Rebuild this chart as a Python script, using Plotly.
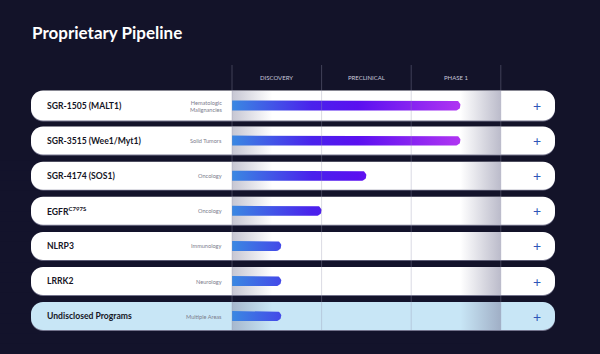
import math
import plotly.graph_objects as go

# ---- data ----
programs = ["SGR-1505 (MALT1)", "SGR-3515 (Wee1/Myt1)", "SGR-4174 (SOS1)",
            "EGFR<sup>C797S</sup>", "NLRP3", "LRRK2", "Undisclosed Programs"]
areas = ["Hematologic<br>Malignancies", "Solid Tumors", "Oncology", "Oncology",
         "Immunology", "Neurology", "Multiple Areas"]
progress = [2.55, 2.55, 1.5, 1.0, 0.55, 0.55, 0.55]   # stage units (0-1 Discovery, 1-2 Preclinical, 2-3 Phase 1)
stages = ["DISCOVERY", "PRECLINICAL", "PHASE 1"]
highlight = [False, False, False, False, False, False, True]

# ---- layout helpers (pixel -> axis units) ----
W, H = 600, 354
X0PX, XU = 232.0, 89.6      # stage 0 at px 232, one stage = 89.6 px
Y0PX, YU = 105.5, 35.1      # row 0 center, row spacing
def X(px): return (px - X0PX) / XU
def Y(py): return (py - Y0PX) / YU
DX, DY = 1 / XU, 1 / YU
K = 0.5523

def pill(x0, x1, yc, hh, r):
    rx, ry = r * DX, r * DY
    yt, yb = yc - hh, yc + hh
    p = [f"M{x0+rx},{yt}", f"L{x1-rx},{yt}",
         f"C{x1-rx+K*rx},{yt} {x1},{yt+ry-K*ry} {x1},{yt+ry}",
         f"L{x1},{yb-ry}",
         f"C{x1},{yb-ry+K*ry} {x1-rx+K*rx},{yb} {x1-rx},{yb}",
         f"L{x0+rx},{yb}",
         f"C{x0+rx-K*rx},{yb} {x0},{yb-ry+K*ry} {x0},{yb-ry}",
         f"L{x0},{yt+ry}",
         f"C{x0},{yt+ry-K*ry} {x0+rx-K*rx},{yt} {x0+rx},{yt}", "Z"]
    return " ".join(p)

fig = go.Figure()
shapes = []
annotations = []

# background glow (stacked translucent bands, below everything)
n = 20
for k in range(n):
    py0 = 150 + (H - 150) * k / n
    shapes.append(dict(type="rect", x0=X(0), x1=X(W * 0.8), y0=Y(py0), y1=Y(H),
                       fillcolor="rgba(50,40,95,0.022)", line=dict(width=0), layer="below"))

for i, name in enumerate(programs):
    hh = (15 if i == 0 else 14) * DY
    # shadow + pill
    shapes.append(dict(type="path", path=pill(X(31), X(555), i + 0.9 * DY, hh, 12),
                       fillcolor="rgba(140,140,165,0.8)", line=dict(width=0), layer="below"))
    shapes.append(dict(type="path", path=pill(X(31), X(555), i, hh, 12),
                       fillcolor="#c8e6f6" if highlight[i] else "#ffffff",
                       line=dict(width=0), layer="below"))
    # left shade
    fig.add_trace(go.Scatter(
        x=[0, 0.45, 0.45, 0, 0], y=[i - hh, i - hh, i + hh, i + hh, i - hh],
        mode="lines", line=dict(width=0), fill="toself",
        fillgradient=dict(type="horizontal", start=0, stop=0.45,
                          colorscale=[[0, "rgba(120,120,150,0.42)"], [1, "rgba(120,120,150,0)"]]),
        hoverinfo="skip", showlegend=False))
    # right shade
    fig.add_trace(go.Scatter(
        x=[2.55, 3.0, 3.0, 2.55, 2.55], y=[i - hh, i - hh, i + hh, i + hh, i - hh],
        mode="lines", line=dict(width=0), fill="toself",
        fillgradient=dict(type="horizontal", start=2.55, stop=3.0,
                          colorscale=[[0, "rgba(120,120,150,0)"], [1, "rgba(120,120,150,0.5)"]]),
        hoverinfo="skip", showlegend=False))

# progress bars
bh = 5 * DY
for i, v in enumerate(progress):
    rx = 5 * DX
    xs = [0, v - rx]
    ys = [i - bh, i - bh]
    for k in range(1, 20):
        a = -math.pi / 2 + math.pi * k / 20
        xs.append(v - rx + rx * math.cos(a))
        ys.append(i + bh * math.sin(a))
    xs += [v - rx, 0, 0]
    ys += [i + bh, i + bh, i - bh]
    fig.add_trace(go.Scatter(
        x=xs, y=ys, mode="lines", line=dict(width=0), fill="toself",
        fillgradient=dict(type="horizontal", start=0, stop=2.55,
                          colorscale=[[0, "#3a88e2"], [0.35, "#4a22ec"], [0.55, "#5a10f0"], [1, "#b035f2"]]),
        hoverinfo="skip", showlegend=False))

# stage divider lines
for s in range(4):
    shapes.append(dict(type="line", x0=s, x1=s, y0=Y(65), y1=Y(330),
                       line=dict(color="rgba(150,150,175,0.35)", width=1), layer="above"))

# stage headers
for s, lab in enumerate(stages):
    annotations.append(dict(x=s + 0.5, y=Y(77.5), text=lab, showarrow=False,
                            font=dict(family="Lato", size=6, color="#c8c8da")))

for i, name in enumerate(programs):
    annotations.append(dict(x=X(44.5), y=i, text=f"<b>{name}</b>", showarrow=False, xanchor="left",
                            font=dict(family="Lato", size=8.6, color="#151525")))
    annotations.append(dict(x=X(224), y=i, text=areas[i], showarrow=False, xanchor="right",
                            align="right", font=dict(family="Lato", size=5.6, color="#7c7c8c")))
    annotations.append(dict(x=X(537), y=i, text="+", showarrow=False,
                            font=dict(family="Lato", size=14, color="#2f55b8")))

annotations.append(dict(x=X(30), y=Y(32.5), text="<b>Proprietary Pipeline</b>", showarrow=False,
                        xanchor="left", font=dict(family="Lato", size=17, color="#ffffff")))

fig.update_layout(
    width=W, height=H, margin=dict(l=0, r=0, t=0, b=0),
    paper_bgcolor="#131329", plot_bgcolor="rgba(0,0,0,0)",
    xaxis=dict(range=[X(0), X(W)], visible=False, fixedrange=True),
    yaxis=dict(range=[Y(H), Y(0)], visible=False, fixedrange=True),
    shapes=shapes, annotations=annotations, showlegend=False, hovermode=False)

fig.write_html("out.html", config={"displayModeBar": False})
